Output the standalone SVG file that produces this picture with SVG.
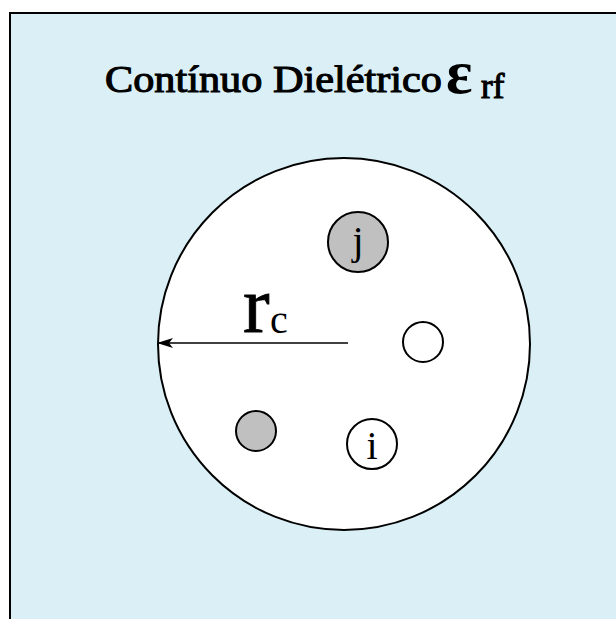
<svg xmlns="http://www.w3.org/2000/svg" width="616" height="619" viewBox="0 0 616 619">
<style>
text{font-family:"Liberation Serif","DejaVu Serif","Times New Roman",serif;fill:#000}
.ln{stroke:#000;stroke-width:1.6;fill:none}
</style>
<defs>
<marker id="ah" markerWidth="16" markerHeight="10" refX="15" refY="5" orient="auto" markerUnits="userSpaceOnUse">
<path d="M0,0 L16,5 L0,10 L4,5 Z" fill="#000"/>
</marker>
</defs>
<rect x="0" y="0" width="616" height="619" fill="#fff"/>
<g id="continuum">
<rect x="10" y="13" width="620" height="620" fill="#daf0f6" stroke="#000" stroke-width="2"/>
<text x="105" y="92" font-family="Liberation Serif, serif" font-size="38" stroke="#000" stroke-width="1.1" textLength="337" lengthAdjust="spacingAndGlyphs">Contínuo Dielétrico</text>
<text x="446" y="93" font-family="Liberation Serif, serif" font-size="62" font-weight="bold">ε</text>
<text x="481" y="98" font-family="Liberation Serif, serif" font-size="35" stroke="#000" stroke-width="1.1">rf</text>
</g>
<g id="cavity">
<circle cx="344" cy="344" r="186" fill="#fff" stroke="#000" stroke-width="2"/>
<text x="243" y="332" font-family="Liberation Serif, serif" font-size="80" stroke="#000" stroke-width="0.8">r</text>
<text x="270" y="333" font-family="Liberation Serif, serif" font-size="40">c</text>
</g>
<g id="connectors">
<line class="ln" x1="348" y1="343" x2="158" y2="343" marker-end="url(#ah)"/>
</g>
<g id="j">
<circle cx="358" cy="242" r="30" fill="#c0c0c0" stroke="#000" stroke-width="2"/>
<text x="358" y="254" font-family="Liberation Serif, serif" font-size="40" text-anchor="middle">j</text>
</g>
<g id="white1">
<circle cx="423" cy="342" r="20" fill="#fff" stroke="#000" stroke-width="2"/>
</g>
<g id="gray2">
<circle cx="256" cy="431" r="20" fill="#c0c0c0" stroke="#000" stroke-width="2"/>
</g>
<g id="i">
<circle cx="372" cy="444" r="25" fill="#fff" stroke="#000" stroke-width="2"/>
<text x="372" y="459" font-family="Liberation Serif, serif" font-size="40" text-anchor="middle">i</text>
</g>
</svg>
